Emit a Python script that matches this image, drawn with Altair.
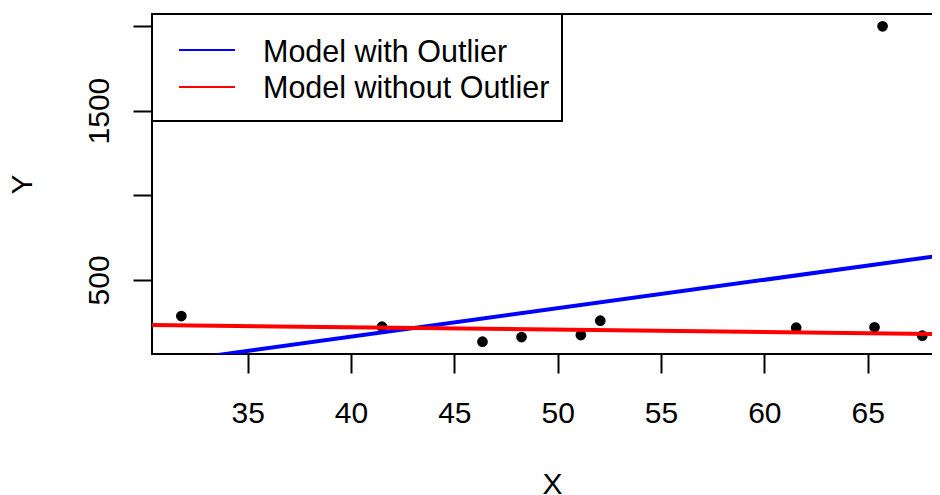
import altair as alt
import pandas as pd

# Observed points (last one is the outlier)
x_vals = [31.79, 41.50, 46.36, 48.25, 51.12, 52.06, 61.54, 65.33, 67.64, 65.72]
y_vals = [286.8, 223.7, 135.2, 162.9, 174.7, 259.1, 217.8, 220.1, 170.6, 1997.8]

# Fitted lines, evaluated at the ends of the x range
fit_x = [30.37, 69.03]
with_outlier_y = [3.0, 652.5]
without_outlier_y = [233.7, 179.9]

models = ["Model with Outlier", "Model without Outlier"]
model_colors = ["#0000FF", "#FF0000"]

x_ticks = [35, 40, 45, 50, 55, 60, 65]
y_ticks = [500, 1000, 1500, 2000]
x_domain = [30.37, 69.03]
y_domain = [62.6, 2070.4]

FONT = "Liberation Sans"
FS = 30

pts = pd.DataFrame({"X": x_vals, "Y": y_vals})
lines = pd.DataFrame({
    "X": fit_x + fit_x,
    "Y": with_outlier_y + without_outlier_y,
    "model": [models[0]] * 2 + [models[1]] * 2,
})

xscale = alt.Scale(domain=x_domain, nice=False, zero=False)
yscale = alt.Scale(domain=y_domain, nice=False, zero=False)

xaxis = alt.Axis(
    values=x_ticks, title="X", grid=False, domain=False,
    tickSize=19, tickWidth=2, tickColor="black",
    labelFont=FONT, labelFontSize=FS, labelColor="black",
    labelPadding=25, labelBaseline="top", labelFlush=False,
    titleFont=FONT, titleFontSize=FS, titleFontWeight="normal", titleColor="black",
    titleX=400, titleY=139, titleBaseline="alphabetic", titleAlign="center",
)
yaxis = alt.Axis(
    values=y_ticks, title="Y", grid=False, domain=False,
    tickSize=19, tickWidth=2, tickColor="black",
    labelFont=FONT, labelFontSize=FS, labelColor="black",
    labelAngle=270, labelAlign="center", labelBaseline="alphabetic",
    labelPadding=25, labelFlush=False, labelOverlap=False,
    labelExpr="datum.value == 500 || datum.value == 1500 ? datum.value : ''",
    titleFont=FONT, titleFontSize=FS, titleFontWeight="normal", titleColor="black",
    titleAngle=270, titleX=-121, titleY=170, titleBaseline="alphabetic", titleAlign="center",
)

points = alt.Chart(pts).mark_circle(size=115, color="black", opacity=1).encode(
    x=alt.X("X:Q", scale=xscale, axis=xaxis),
    y=alt.Y("Y:Q", scale=yscale, axis=yaxis),
)

fit = alt.Chart(lines).mark_line(strokeWidth=4, clip=True).encode(
    x=alt.X("X:Q", scale=xscale),
    y=alt.Y("Y:Q", scale=yscale),
    color=alt.Color("model:N", scale=alt.Scale(domain=models, range=model_colors), legend=None),
    detail="model:N",
)

one = pd.DataFrame({"a": [0]})
legend_box = alt.Chart(one).mark_rect(
    fill="white", stroke="black", strokeWidth=2
).encode(x=alt.value(0), x2=alt.value(410), y=alt.value(0), y2=alt.value(107))

leg_blue = alt.Chart(one).mark_rule(color=model_colors[0], strokeWidth=2).encode(
    x=alt.value(27), x2=alt.value(83), y=alt.value(36))
leg_red = alt.Chart(one).mark_rule(color=model_colors[1], strokeWidth=2).encode(
    x=alt.value(27), x2=alt.value(83), y=alt.value(73))
leg_t1 = alt.Chart(one).mark_text(
    text=models[0], font=FONT, fontSize=30.5, align="left", baseline="alphabetic", color="black"
).encode(x=alt.value(111), y=alt.value(47.5))
leg_t2 = alt.Chart(one).mark_text(
    text=models[1], font=FONT, fontSize=30.5, align="left", baseline="alphabetic", color="black"
).encode(x=alt.value(111), y=alt.value(84))

chart = alt.layer(points, fit, legend_box, leg_blue, leg_red, leg_t1, leg_t2).properties(
    width=799, height=340,
    autosize=alt.AutoSizeParams(type="none"),
    padding={"left": 144, "top": 6, "right": -19, "bottom": 141},
    background="white",
).configure_view(stroke="black", strokeWidth=2)

chart.save("out.html", embed_options={"renderer": "svg", "actions": False})
